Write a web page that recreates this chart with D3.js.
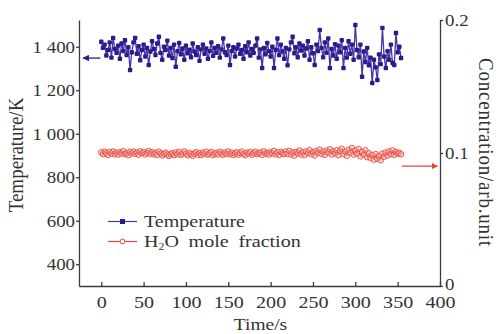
<!DOCTYPE html>
<html>
<head>
<meta charset="utf-8">
<script src="https://cdn.jsdelivr.net/npm/d3@7"></script>
<style>
  body { margin: 0; background: #fff; }
  svg { display: block; }
</style>
</head>
<body>
<div id="chart"></div>
<script>
// ---- data ----
const timeTicks = [0, 50, 100, 150, 200, 250, 300, 350, 400];
const tempTicks = [400, 600, 800, 1000, 1200, 1400];
const tempTickLabels = ['400', '600', '800', '1 000', '1 200', '1 400'];
const concTicks = [0, 0.1, 0.2];
const concTickLabels = ['0', '0.1', '0.2'];

// sample times (s), one point every 2 s
const times = [
  0, 2, 4, 6, 8, 10, 12, 14, 16, 18, 20, 22, 24, 26, 28, 30, 32, 34, 36, 38,
  40, 42, 44, 46, 48, 50, 52, 54, 56, 58, 60, 62, 64, 66, 68, 70, 72, 74, 76, 78,
  80, 82, 84, 86, 88, 90, 92, 94, 96, 98, 100, 102, 104, 106, 108, 110, 112, 114, 116, 118,
  120, 122, 124, 126, 128, 130, 132, 134, 136, 138, 140, 142, 144, 146, 148, 150, 152, 154, 156, 158,
  160, 162, 164, 166, 168, 170, 172, 174, 176, 178, 180, 182, 184, 186, 188, 190, 192, 194, 196, 198,
  200, 202, 204, 206, 208, 210, 212, 214, 216, 218, 220, 222, 224, 226, 228, 230, 232, 234, 236, 238,
  240, 242, 244, 246, 248, 250, 252, 254, 256, 258, 260, 262, 264, 266, 268, 270, 272, 274, 276, 278,
  280, 282, 284, 286, 288, 290, 292, 294, 296, 298, 300, 302, 304, 306, 308, 310, 312, 314, 316, 318,
  320, 322, 324, 326, 328, 330, 332, 334, 336, 338, 340, 342, 344, 346, 348, 350, 352, 354
];

// temperature (K)
const temperature = [
  1423, 1395, 1410, 1360, 1385, 1420, 1350, 1440, 1390, 1372,
  1405, 1345, 1415, 1380, 1430, 1362, 1398, 1293, 1375, 1420,
  1440, 1368, 1402, 1338, 1385, 1410, 1355, 1395, 1316, 1378,
  1425, 1390, 1362, 1415, 1446, 1372, 1340, 1400, 1385, 1428,
  1360, 1395, 1348, 1410, 1308, 1380, 1418, 1365, 1392, 1340,
  1405, 1370, 1386, 1352, 1415, 1378, 1362, 1398, 1335, 1388,
  1410, 1368, 1392, 1345, 1380, 1420, 1358, 1395, 1372, 1402,
  1350, 1388, 1438, 1375, 1362, 1405, 1316, 1380, 1398, 1355,
  1392, 1410, 1368, 1385, 1345, 1402, 1375, 1420, 1360, 1390,
  1372, 1405, 1438, 1350, 1388, 1302, 1395, 1365, 1418, 1380,
  1355, 1400, 1302, 1385, 1438, 1362, 1410, 1378, 1345, 1395,
  1315, 1388, 1420, 1446, 1370, 1398, 1352, 1415, 1382, 1405,
  1360, 1392, 1425, 1340, 1398, 1370, 1316, 1410, 1380, 1477,
  1395, 1352, 1420, 1372, 1438, 1302, 1390, 1360, 1412, 1345,
  1405, 1375, 1430, 1302, 1395, 1350, 1425, 1368, 1410, 1340,
  1500, 1385, 1352, 1410, 1262, 1378, 1330, 1395, 1315, 1350,
  1233, 1340, 1305, 1247, 1365, 1320, 1487, 1355, 1302, 1380,
  1340, 1410, 1325, 1316, 1463, 1375, 1400, 1348
];

// H2O mole fraction (arb. unit)
const h2oFraction = [
  0.1005, 0.0992, 0.1010, 0.0998, 0.0985, 0.1008, 0.0995, 0.1012, 0.0990, 0.1003,
  0.0988, 0.1006, 0.0996, 0.1014, 0.0992, 0.1000, 0.0983, 0.1009, 0.0997, 0.1011,
  0.0994, 0.1004, 0.0987, 0.1013, 0.0999, 0.1007, 0.0989, 0.1002, 0.1015, 0.0993,
  0.1006, 0.0990, 0.1001, 0.0985, 0.1010, 0.0996, 0.0981, 0.0994, 0.1003, 0.0988,
  0.0978, 0.0992, 0.0999, 0.0984, 0.1004, 0.0990, 0.1008, 0.0986, 0.0997, 0.1012,
  0.0995, 0.0983, 0.1001, 0.0990, 0.0979, 0.0996, 0.1006, 0.0987, 0.0999, 0.0985,
  0.1003, 0.0992, 0.1010, 0.0988, 0.0998, 0.1007, 0.0984, 0.0995, 0.1002, 0.0989,
  0.1009, 0.0996, 0.0986, 0.1004, 0.0993, 0.1012, 0.0990, 0.1001, 0.0985, 0.0997,
  0.1006, 0.0988, 0.0999, 0.1011, 0.0992, 0.0983, 0.1003, 0.0995, 0.1008, 0.0987,
  0.1000, 0.1010, 0.0991, 0.0998, 0.1005, 0.0986, 0.1013, 0.0994, 0.1002, 0.0989,
  0.1007, 0.0996, 0.1015, 0.0990, 0.1004, 0.0985, 0.1009, 0.0998, 0.0992, 0.1011,
  0.0995, 0.1016, 0.0988, 0.1003, 0.0980, 0.1008, 0.0997, 0.1019, 0.0990, 0.1006,
  0.0984, 0.1012, 0.0999, 0.1022, 0.0991, 0.1008, 0.0982, 0.1015, 0.1001, 0.1025,
  0.0993, 0.1010, 0.0986, 0.1018, 0.1004, 0.1028, 0.0989, 0.1013, 0.0997, 0.1021,
  0.0984, 0.1016, 0.1032, 0.0992, 0.1010, 0.0979, 0.1024, 0.1003, 0.1038, 0.0988,
  0.1018, 0.0996, 0.1030, 0.0975, 0.1008, 0.0990, 0.1021, 0.0969, 0.0998, 0.0962,
  0.0985, 0.0950, 0.0992, 0.0958, 0.0978, 0.0946, 0.0995, 0.0972, 0.1004, 0.0980,
  0.1012, 0.0991, 0.1020, 0.0986, 0.1008, 0.0995, 0.1002, 0.0990
];

// ---- layout ----
const width = 498;
const height = 334;
const margin = { top: 20, right: 58, bottom: 48, left: 79 };
const blue = '#2d1b8e';
const red = '#e8453c';
const axisColor = '#3a3a3a';
const serif = '"Liberation Serif", "Times New Roman", serif';
const stretch = 'scale(1.18,1)'; // the reference text is a bit wide

const svg = d3.select('#chart').append('svg')
  .attr('width', width)
  .attr('height', height);

const x = d3.scaleLinear()
  .domain([-26.3, 400])
  .range([margin.left, width - margin.right]);

const yTemp = d3.scaleLinear()
  .domain([300, 1523])
  .range([height - margin.bottom, margin.top]);

const yConc = d3.scaleLinear()
  .domain([0, 0.2])
  .range([height - margin.bottom, margin.top]);

const tempData = times.map((t, i) => ({ t, v: temperature[i] }));
const concData = times.map((t, i) => ({ t, v: h2oFraction[i] }));

// ---- axes ----
function styleAxis(g) {
  g.attr('font-family', serif).attr('font-size', 16);
  g.selectAll('.domain, .tick line').attr('stroke', axisColor).attr('stroke-width', 1.3);
  g.selectAll('.tick text').attr('fill', '#333').attr('x', null).attr('y', null).attr('dy', null);
}

const xAxis = svg.append('g')
  .attr('transform', `translate(0,${height - margin.bottom})`)
  .call(d3.axisBottom(x).tickValues(timeTicks).tickSizeInner(-4).tickSizeOuter(0));
styleAxis(xAxis);
xAxis.attr('font-size', 17);
xAxis.selectAll('.tick text')
  .attr('text-anchor', 'middle')
  .attr('transform', `translate(0,21.5) ${stretch}`);

const leftAxis = svg.append('g')
  .attr('transform', `translate(${margin.left},0)`)
  .call(d3.axisLeft(yTemp).tickValues(tempTicks)
    .tickFormat((d, i) => tempTickLabels[i]).tickSizeInner(3).tickSizeOuter(0));
styleAxis(leftAxis);
leftAxis.selectAll('.tick text')
  .attr('text-anchor', 'end')
  .attr('transform', `translate(-4,5.5) ${stretch}`);

const rightAxis = svg.append('g')
  .attr('transform', `translate(${width - margin.right},0)`)
  .call(d3.axisRight(yConc).tickValues(concTicks)
    .tickFormat((d, i) => concTickLabels[i]).tickSizeInner(3).tickSizeOuter(0));
styleAxis(rightAxis);
rightAxis.selectAll('.tick text')
  .attr('text-anchor', 'start')
  .attr('transform', (d, i) => `translate(5,${i === 0 ? 3.5 : 5.5}) ${stretch}`);

// ---- series ----
const tempLine = d3.line().x(d => x(d.t)).y(d => yTemp(d.v));
const concLine = d3.line().x(d => x(d.t)).y(d => yConc(d.v));

svg.append('path')
  .datum(concData)
  .attr('fill', 'none')
  .attr('stroke', red)
  .attr('stroke-width', 1)
  .attr('d', concLine);

svg.append('g').selectAll('circle')
  .data(concData)
  .enter()
  .append('circle')
  .attr('cx', d => x(d.t))
  .attr('cy', d => yConc(d.v))
  .attr('r', 2.8)
  .attr('fill', '#f7b3ae')
  .attr('fill-opacity', 0.45)
  .attr('stroke', red)
  .attr('stroke-opacity', 0.85)
  .attr('stroke-width', 1);

svg.append('path')
  .datum(tempData)
  .attr('fill', 'none')
  .attr('stroke', '#4535a6')
  .attr('stroke-width', 1.3)
  .attr('d', tempLine);

const sq = 4.4;
svg.append('g').selectAll('rect')
  .data(tempData)
  .enter()
  .append('rect')
  .attr('x', d => x(d.t) - sq / 2)
  .attr('y', d => yTemp(d.v) - sq / 2)
  .attr('width', sq)
  .attr('height', sq)
  .attr('rx', 1)
  .attr('fill', blue);

// ---- arrows showing which axis each series uses ----
const defs = svg.append('defs');
[['head-blue', blue], ['head-red', red]].forEach(([id, c]) => {
  defs.append('marker')
    .attr('id', id)
    .attr('viewBox', '0 0 10 10')
    .attr('refX', 9).attr('refY', 5)
    .attr('markerWidth', 5).attr('markerHeight', 5)
    .attr('orient', 'auto')
    .append('path')
    .attr('d', 'M0,0 L10,5 L0,10 z')
    .attr('fill', c);
});

svg.append('line')
  .attr('x1', x(-1)).attr('x2', x(-21.5))
  .attr('y1', yTemp(1348)).attr('y2', yTemp(1348))
  .attr('stroke', blue).attr('stroke-width', 1.3)
  .attr('marker-end', 'url(#head-blue)');

svg.append('line')
  .attr('x1', x(355)).attr('x2', x(397))
  .attr('y1', yConc(0.0902)).attr('y2', yConc(0.0902))
  .attr('stroke', red).attr('stroke-width', 1.3)
  .attr('marker-end', 'url(#head-red)');

// ---- legend ----
const legend = svg.append('g')
  .attr('font-family', serif)
  .attr('font-size', 17)
  .attr('fill', '#333');

const lgX = 108, lgW = 29;
const lgY1 = 221.5, lgY2 = 241.5;

legend.append('line')
  .attr('x1', lgX).attr('x2', lgX + lgW)
  .attr('y1', lgY1).attr('y2', lgY1)
  .attr('stroke', '#4535a6').attr('stroke-width', 1.2);
legend.append('rect')
  .attr('x', lgX + lgW / 2 - 2.5).attr('y', lgY1 - 2.5)
  .attr('width', 5).attr('height', 5)
  .attr('fill', blue);
legend.append('text')
  .attr('transform', `translate(${lgX + 36},${lgY1 + 5.5}) ${stretch}`)
  .text('Temperature');

legend.append('line')
  .attr('x1', lgX).attr('x2', lgX + lgW)
  .attr('y1', lgY2).attr('y2', lgY2)
  .attr('stroke', red).attr('stroke-width', 1.2);
legend.append('circle')
  .attr('cx', lgX + lgW / 2).attr('cy', lgY2)
  .attr('r', 2.4)
  .attr('fill', '#fff')
  .attr('stroke', red).attr('stroke-width', 1);
const h2oText = legend.append('text')
  .attr('transform', `translate(${lgX + 36},${lgY2 + 5.5}) ${stretch}`)
  .attr('word-spacing', 4);
h2oText.append('tspan').text('H');
h2oText.append('tspan').attr('font-size', 10).attr('dy', 3).text('2');
h2oText.append('tspan').attr('dy', -3).text('O mole fraction');

// ---- axis titles ----
svg.append('text')
  .attr('transform', 'translate(23,155) scale(1.1,1) rotate(-90)')
  .attr('text-anchor', 'middle')
  .attr('font-family', serif)
  .attr('font-size', 19)
  .attr('fill', '#333')
  .text('Temperature/K');

svg.append('text')
  .attr('transform', 'translate(479,152.5) scale(1.1,1) rotate(90)')
  .attr('text-anchor', 'middle')
  .attr('font-family', serif)
  .attr('font-size', 19)
  .attr('letter-spacing', 0.8)
  .attr('fill', '#333')
  .text('Concentration/arb.unit');

svg.append('text')
  .attr('transform', `translate(260.5,330) ${stretch}`)
  .attr('text-anchor', 'middle')
  .attr('font-family', serif)
  .attr('font-size', 16.5)
  .attr('fill', '#333')
  .text('Time/s');
</script>
</body>
</html>
